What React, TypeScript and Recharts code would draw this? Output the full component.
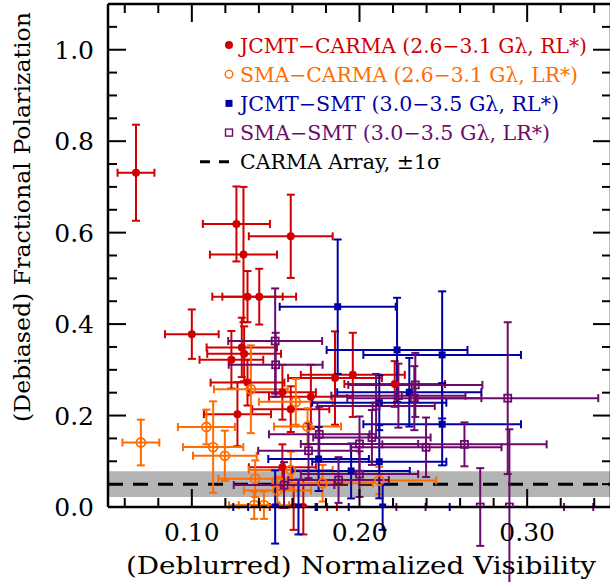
import React from 'react';
import { ScatterChart, Scatter, XAxis, YAxis, ErrorBar, ReferenceArea, ReferenceLine } from 'recharts';

// [visibility, polarization, visibility err, polarization err]
const jcmtCarma = [
  [0.0667, 0.731, 0.011, 0.105],
  [0.1266, 0.619, 0.02, 0.082],
  [0.1308, 0.552, 0.02, 0.148],
  [0.159, 0.592, 0.025, 0.091],
  [0.1332, 0.46, 0.021, 0.056],
  [0.1402, 0.46, 0.022, 0.061],
  [0.1, 0.378, 0.016, 0.054],
  [0.1298, 0.349, 0.021, 0.065],
  [0.1312, 0.335, 0.022, 0.06],
  [0.1236, 0.322, 0.019, 0.063],
  [0.1332, 0.272, 0.022, 0.05],
  [0.1272, 0.203, 0.02, 0.07],
  [0.154, 0.251, 0.02, 0.06],
  [0.159, 0.214, 0.023, 0.05],
  [0.171, 0.241, 0.025, 0.07],
  [0.1854, 0.282, 0.028, 0.102],
  [0.196, 0.289, 0.031, 0.092],
  [0.221, 0.269, 0.03, 0.05],
  [0.154, 0.087, 0.02, 0.05],
  [0.1607, 0.0, 0.02, 0.05],
  [0.1665, 0.0, 0.02, 0.06],
];

const smaCarma = [
  [0.0696, 0.141, 0.011, 0.05],
  [0.1087, 0.175, 0.017, 0.038],
  [0.1127, 0.131, 0.018, 0.1],
  [0.1197, 0.112, 0.019, 0.055],
  [0.1378, 0.062, 0.022, 0.04],
  [0.1352, 0.2575, 0.022, 0.096],
  [0.162, 0.23, 0.022, 0.05],
  [0.151, 0.036, 0.02, 0.03],
  [0.169, 0.176, 0.02, 0.04],
  [0.159, 0.081, 0.025, 0.04],
  [0.178, 0.052, 0.03, 0.04],
  [0.1372, 0.004, 0.015, 0.03],
  [0.143, 0.004, 0.015, 0.03],
  [0.2118, 0.058, 0.034, 0.03],
];

const jcmtSmt = [
  [0.187, 0.438, 0.0346, 0.147],
  [0.2224, 0.3435, 0.042, 0.114],
  [0.2493, 0.3326, 0.047, 0.139],
  [0.2493, 0.181, 0.047, 0.09],
  [0.2297, 0.251, 0.043, 0.075],
  [0.2118, 0.228, 0.04, 0.06],
  [0.2118, 0.099, 0.04, 0.08],
  [0.195, 0.0788, 0.035, 0.06],
  [0.1756, 0.105, 0.03, 0.07],
  [0.1497, 0.0, 0.025, 0.08],
  [0.1636, 0.0, 0.03, 0.06],
  [0.2138, 0.0, 0.04, 0.05],
];

const smaSmt = [
  [0.1497, 0.363, 0.028, 0.115],
  [0.15, 0.311, 0.028, 0.07],
  [0.2099, 0.221, 0.035, 0.07],
  [0.2, 0.138, 0.035, 0.06],
  [0.2074, 0.152, 0.035, 0.06],
  [0.1696, 0.123, 0.03, 0.06],
  [0.176, 0.159, 0.03, 0.06],
  [0.1875, 0.059, 0.03, 0.05],
  [0.2, 0.072, 0.035, 0.05],
  [0.155, 0.048, 0.03, 0.05],
  [0.2333, 0.267, 0.04, 0.07],
  [0.2327, 0.238, 0.04, 0.07],
  [0.2232, 0.2435, 0.04, 0.07],
  [0.2884, 0.238, 0.054, 0.166],
  [0.2397, 0.1306, 0.045, 0.065],
  [0.2626, 0.137, 0.049, 0.048],
  [0.272, 0.0, 0.05, 0.085],
  [0.2894, 0.0, 0.05, 0.17],
];

const carmaArray = [0.05, 0.028]; // mean, 1 sigma

const xTicks = [0.06, 0.08, 0.1, 0.12, 0.14, 0.16, 0.18, 0.2, 0.22, 0.24, 0.26, 0.28, 0.3, 0.32, 0.34];
const xMajor = [0.1, 0.2, 0.3];
const yTicks = [0, 0.05, 0.1, 0.15, 0.2, 0.25, 0.3, 0.35, 0.4, 0.45, 0.5, 0.55, 0.6, 0.65, 0.7, 0.75, 0.8, 0.85, 0.9, 0.95, 1.0, 1.05];
const yMajor = [0, 0.2, 0.4, 0.6, 0.8, 1.0];

const RED = '#d00000';
const ORANGE = '#ff6c00';
const BLUE = '#0000a4';
const PURPLE = '#6c0a6c';
const FONT = '"DejaVu Serif", serif';

const toRows = (arr: number[][]) => arr.map(([x, y, ex, ey]) => ({ x, y, ex, ey }));
const isMajor = (v: number, list: number[]) => list.some((m) => Math.abs(m - v) < 1e-6);

// axis boxes are 1px; tick props give the axis line position
function BottomTick(props: any) {
  const { x, y, payload } = props;
  const major = isMajor(payload.value, xMajor);
  return (
    <g>
      <line x1={x} x2={x} y1={y} y2={y - (major ? 18 : 9)} stroke="#000" strokeWidth={2} />
      {major && (
        <text x={x} y={y + 34} textAnchor="middle" fontFamily={FONT} fontSize={25} fill="#000">
          {payload.value.toFixed(2)}
        </text>
      )}
    </g>
  );
}

function TopTick(props: any) {
  const { x, y, payload } = props;
  const major = isMajor(payload.value, xMajor);
  return <line x1={x} x2={x} y1={y} y2={y + (major ? 18 : 9)} stroke="#000" strokeWidth={2} />;
}

function LeftTick(props: any) {
  const { x, y, payload } = props;
  const major = isMajor(payload.value, yMajor);
  return (
    <g>
      <line x1={x} x2={x + (major ? 18 : 9)} y1={y} y2={y} stroke="#000" strokeWidth={2} />
      {major && (
        <text x={x - 14} y={y + 9} textAnchor="end" fontFamily={FONT} fontSize={25} fill="#000">
          {payload.value.toFixed(1)}
        </text>
      )}
    </g>
  );
}

function RightTick(props: any) {
  const { x, y, payload } = props;
  const major = isMajor(payload.value, yMajor);
  return <line x1={x} x2={x - (major ? 18 : 9)} y1={y} y2={y} stroke="#000" strokeWidth={2} />;
}

const filledCircle = (color: string) => (p: any) => <circle cx={p.cx} cy={p.cy} r={4} fill={color} />;
const openCircle = (color: string) => (p: any) => (
  <circle cx={p.cx} cy={p.cy} r={4.5} fill="none" stroke={color} strokeWidth={1.8} />
);
const filledSquare = (color: string) => (p: any) => <rect x={p.cx - 3.5} y={p.cy - 3.5} width={7} height={7} fill={color} />;
const openSquare = (color: string) => (p: any) => (
  <rect x={p.cx - 3.5} y={p.cy - 3.5} width={7} height={7} fill="none" stroke={color} strokeWidth={1.8} />
);

const series = [
  { name: 'JCMT−CARMA (2.6−3.1 Gλ, RL*)', data: jcmtCarma, color: RED, shape: filledCircle, textW: 347 },
  { name: 'SMA−CARMA (2.6−3.1 Gλ, LR*)', data: smaCarma, color: ORANGE, shape: openCircle, textW: 338 },
  { name: 'JCMT−SMT (3.0−3.5 Gλ, RL*)', data: jcmtSmt, color: BLUE, shape: filledSquare, textW: 319 },
  { name: 'SMA−SMT (3.0−3.5 Gλ, LR*)', data: smaSmt, color: PURPLE, shape: openSquare, textW: 310 },
];

function LegendBox() {
  const rowY = (i: number) => 45 + i * 29.2;
  return (
    <svg width={610} height={200} style={{ position: 'absolute', left: 0, top: 0, pointerEvents: 'none' }}>
      {series.map((s, i) => {
        const cy = rowY(i);
        return (
          <g key={s.name}>
            {i === 0 && <circle cx={229} cy={cy} r={4} fill={s.color} />}
            {i === 1 && <circle cx={229} cy={cy} r={3.8} fill="none" stroke={s.color} strokeWidth={1.4} />}
            {i === 2 && <rect x={225.5} y={cy - 3.5} width={7} height={7} fill={s.color} />}
            {i === 3 && <rect x={225.5} y={cy - 3.5} width={7} height={7} fill="none" stroke={s.color} strokeWidth={1.4} />}
            <text x={240} y={cy + 7.5} fontFamily={FONT} fontSize={20.5} fill={s.color} textLength={s.textW} lengthAdjust="spacingAndGlyphs">
              {s.name}
            </text>
          </g>
        );
      })}
      <line x1={200} x2={229} y1={rowY(4)} y2={rowY(4)} stroke="#000" strokeWidth={3} strokeDasharray="10 9" />
      <text x={240} y={rowY(4) + 7.5} fontFamily={FONT} fontSize={20.5} fill="#000" textLength={201} lengthAdjust="spacingAndGlyphs">
        CARMA Array, ±1σ
      </text>
    </svg>
  );
}

const XTitle = () => (
  <text x={361} y={574} textAnchor="middle" fontFamily={FONT} fontSize={25} fill="#000" textLength={470} lengthAdjust="spacingAndGlyphs">
    (Deblurred) Normalized Visibility
  </text>
);

const YTitle = () => (
  <text
    x={30}
    y={217}
    transform="rotate(-90 30 217)"
    textAnchor="middle"
    fontFamily={FONT}
    fontSize={22.5}
    fill="#000"
    textLength={410}
    lengthAdjust="spacingAndGlyphs"
  >
    (Debiased) Fractional Polarization
  </text>
);

const axisLine = { stroke: '#000', strokeWidth: 2.5 };

export default function App() {
  return (
    <div style={{ position: 'absolute', left: 0, top: 0, width: 610, height: 582, overflow: 'hidden', background: '#fff' }}>
      <ScatterChart width={620} height={582} margin={{ top: 3, left: 107, right: 8, bottom: 74 }}>
        <XAxis
          xAxisId="b"
          type="number"
          dataKey="x"
          domain={[0.05, 0.35]}
          ticks={xTicks}
          interval={0}
          allowDataOverflow
          height={1}
          tickSize={0}
          tickMargin={0}
          tickLine={false}
          axisLine={axisLine}
          tick={<BottomTick />}
          label={<XTitle />}
        />
        <XAxis
          xAxisId="t"
          orientation="top"
          type="number"
          dataKey="x"
          domain={[0.05, 0.35]}
          ticks={xTicks}
          interval={0}
          allowDataOverflow
          height={1}
          tickSize={0}
          tickMargin={0}
          tickLine={false}
          axisLine={axisLine}
          tick={<TopTick />}
        />
        <YAxis
          yAxisId="l"
          type="number"
          dataKey="y"
          domain={[0, 1.1]}
          ticks={yTicks}
          interval={0}
          allowDataOverflow
          width={1}
          tickSize={0}
          tickMargin={0}
          tickLine={false}
          axisLine={axisLine}
          tick={<LeftTick />}
          label={<YTitle />}
        />
        <YAxis
          yAxisId="r"
          orientation="right"
          type="number"
          dataKey="y"
          domain={[0, 1.1]}
          ticks={yTicks}
          interval={0}
          allowDataOverflow
          width={1}
          tickSize={0}
          tickMargin={0}
          tickLine={false}
          axisLine={axisLine}
          tick={<RightTick />}
        />
        <ReferenceArea
          xAxisId="b"
          yAxisId="l"
          y1={carmaArray[0] - carmaArray[1]}
          y2={carmaArray[0] + carmaArray[1]}
          fill="#b4b4b4"
          fillOpacity={1}
          stroke="none"
        />
        <ReferenceLine xAxisId="b" yAxisId="l" y={carmaArray[0]} stroke="#000" strokeWidth={3} strokeDasharray="15 10" />
        {series.map((s) => (
          <Scatter
            key={s.name}
            name={s.name}
            xAxisId="b"
            yAxisId="l"
            data={toRows(s.data)}
            isAnimationActive={false}
            shape={s.shape(s.color)}
          >
            <ErrorBar dataKey="ex" direction="x" width={4} stroke={s.color} strokeWidth={2} />
            <ErrorBar dataKey="ey" direction="y" width={4} stroke={s.color} strokeWidth={2} />
          </Scatter>
        ))}
      </ScatterChart>
      <LegendBox />
    </div>
  );
}
